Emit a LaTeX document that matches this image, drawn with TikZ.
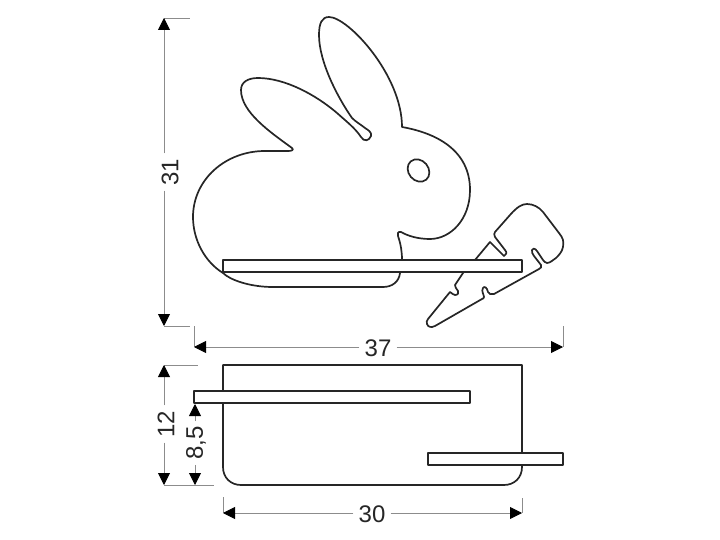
\documentclass[tikz,border=0pt]{standalone}
\usepackage{fontspec}
\setmainfont{Liberation Sans}
\usetikzlibrary{arrows.meta}
\tikzset{
  outline/.style={draw=black!85,line width=1.7pt,line join=round},
  shelfbar/.style={outline,line width=1.5pt,fill=white},
  dimline/.style={draw=black!45,line width=0.9pt,-{Triangle[length=12pt,width=12pt,color=black]}},
  extline/.style={draw=black!45,line width=0.9pt},
  dimlabel/.style={font=\fontsize{24}{24}\selectfont,text=black!85,inner xsep=5pt,inner ysep=0pt}
}
\begin{document}
\begin{tikzpicture}[x=1pt,y=-1pt]
      \useasboundingbox (0,0) rectangle (720,540);
      % rabbit
      \draw[outline]
        (292,148) .. controls (270,132) and (241,112) .. (241,90)
        .. controls (241,82) and (248,78) .. (258,78)
        .. controls (285,78) and (316,95) .. (337,113)
        .. controls (347,122) and (355,128) .. (361,137)
        .. controls (364,142) and (369,141) .. (371,136)
        .. controls (372,132) and (368,130) .. (365,128)
        .. controls (360,124) and (356,122) .. (352,118)
        .. controls (338,98) and (319,62) .. (319,35)
        .. controls (319,23) and (322,17) .. (329,17)
        .. controls (348,17) and (402,75) .. (402,127)
        .. controls (436,133) and (470,150) .. (470,190)
        .. controls (470,220) and (450,239) .. (430,239)
        .. controls (418,239) and (408,236) .. (401,232)
        .. controls (398,231) and (397,234) .. (398,236)
        .. controls (401,245) and (402,252) .. (402,260)
        -- (400,273)
        .. controls (399,282) and (392,287) .. (383,287)
        -- (273,287)
        .. controls (250,287) and (230,280) .. (223,273)
        .. controls (205,262) and (193,240) .. (193,217)
        .. controls (193,180) and (225,151) .. (265,151)
        -- (288,151)
        .. controls (292,151) and (294,150) .. (292,148)
        -- cycle;
      \draw[outline,x radius=12,y radius=10,rotate around={-50:(418.5,170.5)}] (418.5,170.5) circle;
      % carrot
      \draw[outline]
        (475,260) -- (490,242)
        -- (504,256) .. controls (507,253) and (507,253) .. (505,250)
        -- (495,237) .. controls (494,235) and (494,233) .. (495,232)
        -- (510,215)
        .. controls (517,207) and (522,204) .. (527,204)
        .. controls (533,204) and (539,207) .. (543,212)
        -- (559,233)
        .. controls (563,238) and (564,241) .. (563,247)
        .. controls (562,252) and (559,255) .. (556,258)
        .. controls (553,260) and (550,263) .. (547,263)
        .. controls (545,263) and (544,261) .. (543,260)
        -- (537,251)
        .. controls (535,248) and (532,248) .. (532,250)
        .. controls (531,252) and (533,254) .. (534,256)
        -- (541,265) .. controls (542,267) and (541,268) .. (539,269)
        -- (494,294) .. controls (491,295) and (489,294) .. (488,292)
        .. controls (487,287) and (484,286) .. (483,288)
        .. controls (481,291) and (484,295) .. (484,297)
        .. controls (484,298) and (483,299) .. (482,299)
        -- (435,326) .. controls (431,328) and (428,327) .. (427,324)
        .. controls (426,322) and (427,321) .. (428,319)
        -- (450,292) .. controls (452,293) and (453,295) .. (455,295)
        .. controls (458,295) and (459,293) .. (458,291)
        .. controls (456,288) and (455,287) .. (455,285)
        -- (463,273) -- cycle;
      % shelf of the front view
      \draw[shelfbar] (223,260) rectangle (522,272);
      % back plate and shelves of the lower view
      \draw[outline]
        (223,365) -- (522,365) -- (522,467)
        .. controls (522,478) and (514,485) .. (504,485)
        -- (241,485)
        .. controls (231,485) and (223,478) .. (223,467) -- cycle;
      \draw[shelfbar] (194,391) rectangle (470,403);
      \draw[shelfbar] (428,453) rectangle (563,465);
      % dimensions
      \coordinate (h31top) at (164,18);
      \coordinate (h31topend) at (190,18);
      \coordinate (h31bot) at (164,326);
      \coordinate (h31botend) at (190,326);
      \coordinate (w37left) at (194,347);
      \coordinate (w37leftend) at (194,326);
      \coordinate (w37right) at (563,347);
      \coordinate (w37rightend) at (563,326);
      \coordinate (h12top) at (164,365);
      \coordinate (h12topend) at (198,365);
      \coordinate (h12bot) at (164,485);
      \coordinate (h12botend) at (214,485);
      \coordinate (h85top) at (195,404);
      \coordinate (h85bot) at (195,485);
      \coordinate (w30left) at (223,513);
      \coordinate (w30leftend) at (223,497);
      \coordinate (w30right) at (522,513);
      \coordinate (w30rightend) at (522,498);
      \node[dimlabel,rotate=90] (l31) at (170,172) {31};
      \node[dimlabel] (l37) at (378,348) {37};
      \node[dimlabel,rotate=90] (l12) at (166,424) {12};
      \node[dimlabel,rotate=90] (l85) at (196,443) {8,5};
      \node[dimlabel] (l30) at (372,514) {30};
      \draw[extline] (h31top) -- (h31topend);
      \draw[extline] (h31bot) -- (h31botend);
      \draw[extline] (w37leftend) -- (w37left);
      \draw[extline] (w37rightend) -- (w37right);
      \draw[extline] (h12top) -- (h12topend);
      \draw[extline] (h12bot) -- (h12botend);
      \draw[extline] (w30leftend) -- (w30left);
      \draw[extline] (w30rightend) -- (w30right);
      \begin{scope}[dimline]
        \draw (h31top |- l31.east) -- (h31top);
        \draw (h31bot |- l31.west) -- (h31bot);
        \draw (l37.west |- w37left) -- (w37left);
        \draw (l37.east |- w37right) -- (w37right);
        \draw (h12top |- l12.east) -- (h12top);
        \draw (h12bot |- l12.west) -- (h12bot);
        \draw (h85top |- l85.east) -- (h85top);
        \draw (h85bot |- l85.west) -- (h85bot);
        \draw (l30.west |- w30left) -- (w30left);
        \draw (l30.east |- w30right) -- (w30right);
      \end{scope}
    \end{tikzpicture}
\end{document}
